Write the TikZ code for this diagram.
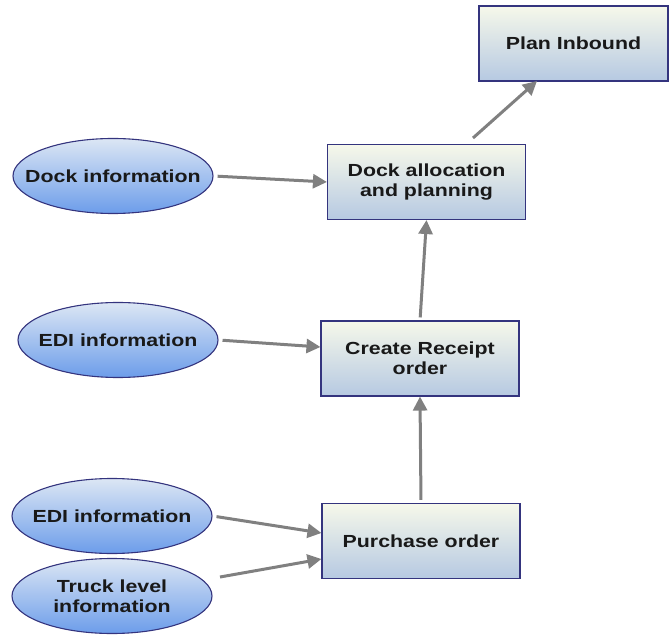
\documentclass[tikz,border=0pt]{standalone}
\usepackage{fontspec}
\setmainfont{Liberation Sans}[FakeStretch=1.22]
\usetikzlibrary{shapes.geometric,arrows.meta}
\definecolor{boxline}{HTML}{34347E}
\definecolor{boxtop}{HTML}{F6F8EA}
\definecolor{boxbot}{HTML}{B6C9E2}
\definecolor{ovaltop}{HTML}{DCE6F4}
\definecolor{ovalbot}{HTML}{6C9DEA}
\definecolor{flow}{HTML}{808080}
\tikzset{
  lbl/.style={align=center, font=\bfseries\fontsize{17.5}{20}\selectfont, text=black!90},
  task/.style={rectangle, draw=boxline, line width=1.1pt, top color=boxtop,
    bottom color=boxbot, minimum width=#1, minimum height=75pt, inner sep=0pt, lbl},
  task/.default=198pt,
  source/.style={ellipse, draw=boxline, line width=1.1pt, top color=ovaltop,
    bottom color=ovalbot, minimum width=200pt, minimum height=75pt, inner sep=0pt,
    label={[lbl]center:#1}},
  feed/.style={draw=flow, line width=3pt, -{Triangle[length=14pt,width=14pt]}}
}
\begin{document}
\begin{tikzpicture}[x=1pt, y=-1pt]
      \useasboundingbox (0,0) rectangle (669,636);
      %
      \node[task=189pt] (plan) at (573.5,43.5) {Plan Inbound};          % top
      \node[task] (dock)   at (426.5,182) {Dock allocation\\and planning};
      \node[task] (receipt) at (420,358.5) {Create Receipt\\order};
      \node[task] (purchase) at (421,541) {Purchase order};
      %
      \node[source={Dock information}] (dockinfo) at (113,176) {};     % inputs
      \node[source={EDI information}]  (edione)   at (118,340) {};
      \node[source={EDI information}]  (editwo)   at (112,516) {};
      \node[source={Truck level\\information}] (truck) at (112,596) {};
      %
      \coordinate (tk) at (220,577);                                    % free ends
      \coordinate (dk) at (473,138);
      \coordinate (pl) at (537,81);
      %
      \draw[feed, shorten <=4pt] (dockinfo.east) -- (dock.west |- 0,182);    % arrows
      \draw[feed, shorten <=4pt] (edione.east) -- (receipt.west |- 0,347);
      \draw[feed, shorten <=4pt] (editwo.east) -- (purchase.west |- 0,533);
      \draw[feed] (tk) -- (purchase.west |- 0,559);
      %
      \draw[feed, shorten <=3pt] (purchase.north) -- (receipt.south);
      \draw[feed, shorten <=3pt] (receipt.north) -- (dock.south);
      \draw[feed] (dk) -- (pl);
\end{tikzpicture}
\end{document}
